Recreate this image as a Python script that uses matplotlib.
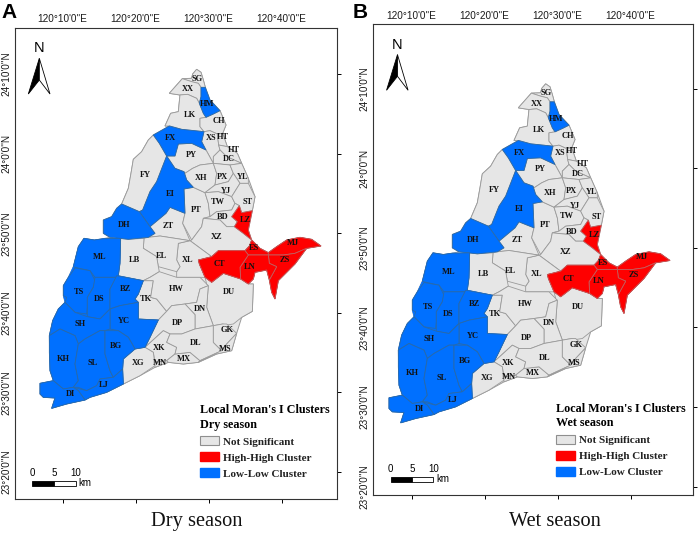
import matplotlib
matplotlib.use('Agg')
import matplotlib.pyplot as plt
from matplotlib.patches import Patch, Polygon, Rectangle

W, H = 699, 534
plt.rcParams['font.family'] = ['Liberation Sans', 'DejaVu Sans']

shapes = {
    'SG': [(590,208),(603,217),(610,240),(616,262),(603,262),(595,250),(575,245),(547,236),(575,235),(578,222)],
    'XX': [(547,236),(575,245),(595,250),(603,262),(603,290),(598,310),(590,295),(563,283),(540,285),(508,280)],
    'HM': [(603,262),(616,262),(630,300),(660,332),(640,342),(618,352),(610,340),(598,310),(603,290)],
    'LK': [(540,285),(563,283),(590,295),(598,310),(610,340),(618,352),(600,355),(600,380),(612,395),(545,388),(510,378),(495,378),(512,340),(535,335)],
    'CH': [(618,352),(640,342),(660,332),(678,375),(668,400),(652,402),(630,392),(612,395),(600,380),(600,355)],
    'FX': [(460,405),(508,378),(545,388),(612,395),(605,425),(618,450),(575,430),(535,432),(525,468),(500,468),(478,430)],
    'XS': [(612,395),(630,392),(652,402),(656,435),(660,450),(640,470),(640,490),(618,450),(605,425)],
    'HT1': [(652,402),(668,400),(682,440),(656,435)],
    'HT2': [(656,435),(682,440),(712,460),(725,490),(680,470),(660,450)],
    'DC': [(660,450),(680,470),(725,490),(690,495),(640,490),(640,470)],
    'FY': [(460,405),(478,430),(500,468),(470,545),(450,575),(428,630),(418,635),(365,612),(385,565),(393,520),(400,478),(425,455),(445,420)],
    'EI': [(500,468),(525,505),(552,515),(560,540),(580,562),(552,567),(555,640),(510,622),(498,640),(450,680),(418,635),(428,630),(450,575),(470,545)],
    'DH': [(365,612),(418,635),(450,680),(465,700),(445,712),(385,718),(330,712),(310,700),(310,660),(335,650),(350,625)],
    'ZT': [(450,680),(498,640),(510,622),(555,640),(548,670),(570,722),(480,708),(445,712),(465,700)],
    'PT': [(552,567),(580,562),(615,578),(625,610),(630,650),(610,655),(605,680),(575,720),(548,670),(555,640)],
    'PY': [(535,432),(575,430),(618,450),(640,490),(600,495),(578,505),(555,520),(525,505),(500,468),(525,468)],
    'XH': [(555,520),(578,505),(600,495),(640,490),(650,520),(645,555),(615,578),(580,562),(560,540),(552,515),(525,505)],
    'PX': [(640,490),(690,495),(700,520),(685,545),(645,555),(650,520)],
    'YL': [(690,495),(725,490),(745,535),(745,550),(720,550),(700,520)],
    'YJ': [(645,555),(685,545),(700,520),(720,550),(695,590),(655,575),(615,578)],
    'TW': [(615,578),(655,575),(695,590),(705,610),(695,630),(650,635),(630,650),(625,610)],
    'ST': [(720,550),(745,550),(765,590),(757,632),(725,638),(718,617),(705,610),(695,590)],
    'BD': [(630,650),(650,635),(695,630),(705,610),(718,617),(695,650),(712,665),(703,680),(680,680),(660,660),(610,655)],
    'LZ': [(718,617),(725,638),(757,632),(745,690),(755,720),(730,700),(703,680),(712,665),(695,650)],
    'XZ': [(610,655),(660,660),(680,680),(703,680),(730,700),(755,720),(748,738),(735,752),(655,752),(635,770),(570,722),(575,720),(605,680)],
    'ES': [(755,720),(780,745),(805,758),(805,765),(745,765),(735,752),(748,738)],
    'MJ': [(805,758),(830,740),(860,720),(900,712),(935,718),(963,738),(920,745),(885,760),(850,765),(805,765)],
    'ZS': [(805,765),(850,765),(885,760),(920,745),(885,792),(835,842),(825,897),(815,877),(808,840),(830,800),(808,790)],
    'LN': [(745,765),(805,765),(808,790),(830,800),(808,840),(800,810),(765,817),(760,837),(745,852),(722,837),(720,802)],
    'CT': [(595,780),(635,770),(655,752),(735,752),(745,765),(720,802),(722,837),(670,820),(635,847),(615,832),(598,792)],
    'XL': [(570,722),(635,770),(595,780),(598,792),(615,832),(600,832),(530,832),(530,815),(540,800),(530,780),(535,730)],
    'EL': [(432,715),(445,712),(480,708),(570,722),(535,730),(530,780),(540,800),(530,815),(475,800),(470,770),(430,745)],
    'LB': [(362,715),(385,718),(432,715),(430,745),(470,770),(475,800),(478,815),(450,832),(430,842),(355,827),(360,790)],
    'ML': [(252,715),(283,720),(310,716),(362,715),(360,790),(355,827),(350,832),(285,832),(270,812),(225,802),(220,800),(235,740)],
    'TS': [(225,804),(270,812),(285,842),(280,862),(262,892),(262,922),(260,942),(225,937),(200,912),(195,907),(200,892),(190,887),(190,857),(205,832)],
    'DS': [(285,832),(350,832),(330,867),(330,927),(300,957),(262,950),(262,892),(280,862)],
    'BZ': [(350,827),(430,842),(415,882),(405,897),(415,907),(360,917),(330,927),(330,867)],
    'YC': [(415,907),(415,957),(475,960),(450,1012),(435,1042),(405,1047),(385,1012),(355,992),(330,987),(330,927),(360,917)],
    'SH': [(195,907),(200,912),(225,937),(262,950),(300,957),(330,927),(330,987),(315,992),(300,992),(255,1017),(235,1032),(225,1007),(180,987),(148,1007),(158,962),(175,927)],
    'KH': [(148,1007),(180,987),(225,1007),(235,1032),(225,1092),(235,1142),(220,1162),(190,1167),(160,1142),(150,1112),(148,1057)],
    'SL': [(255,1017),(300,992),(315,992),(315,1062),(330,1112),(340,1132),(300,1137),(290,1157),(260,1172),(235,1162),(220,1162),(235,1142),(225,1092),(235,1032)],
    'BG': [(315,992),(355,992),(385,1012),(405,1047),(370,1077),(368,1107),(340,1132),(330,1112),(315,1062)],
    'LJ': [(368,1107),(370,1152),(320,1177),(270,1192),(255,1200),(235,1172),(220,1162),(260,1172),(290,1157),(300,1137),(340,1132)],
    'DI': [(120,1150),(160,1142),(190,1167),(220,1162),(235,1172),(255,1200),(200,1212),(155,1225),(165,1194),(130,1192),(120,1182)],
    'TK': [(430,842),(460,842),(452,892),(470,897),(500,934),(475,960),(415,957),(415,907),(405,897),(415,882)],
    'HW': [(478,815),(530,832),(600,832),(620,852),(625,857),(600,867),(590,907),(555,912),(515,917),(500,934),(470,897),(452,892),(460,842),(430,842),(450,832)],
    'DU': [(615,832),(635,847),(670,820),(722,837),(745,852),(760,852),(757,934),(725,952),(700,972),(680,975),(668,972),(640,977),(620,922),(625,857),(620,852)],
    'DN': [(600,867),(625,857),(620,922),(640,977),(585,987),(585,944),(555,912),(590,907)],
    'DP': [(500,934),(515,917),(555,912),(585,944),(585,987),(545,1002),(510,1002),(490,992),(435,1042),(450,1012),(475,960)],
    'XK': [(435,1042),(490,992),(510,1002),(500,1027),(530,1042),(525,1062),(500,1082),(465,1087),(460,1057)],
    'XG': [(405,1047),(435,1042),(460,1057),(465,1097),(420,1127),(370,1152),(368,1107),(370,1077)],
    'MN': [(465,1087),(500,1082),(505,1087),(465,1102)],
    'MX': [(500,1082),(525,1062),(570,1057),(600,1082),(595,1087),(550,1092),(505,1087)],
    'DL': [(500,1027),(510,1002),(545,1002),(585,987),(640,977),(640,1027),(665,1052),(600,1082),(570,1057),(525,1062),(530,1042)],
    'GK': [(640,977),(668,972),(680,972),(710,1000),(680,1032),(665,1052),(640,1027)],
    'MS': [(680,1032),(710,1000),(695,1052),(650,1062),(595,1087),(600,1082),(665,1052)],
}

# backing outlines so no white shows between digitised districts
coast = [(590,208),(603,217),(610,240),(616,262),(630,300),(660,332),(678,375),(668,400),(682,440),(712,460),(725,490),(745,535),(765,590),(757,632),(745,690),(755,720),(780,745),(805,758),(830,740),(860,720),(900,712),(935,718),(963,738),(920,745),(885,792),(835,842),(825,897),(815,877),(808,840),(800,810),(765,817),(760,837),(745,852),(760,852),(757,934),(725,952),(710,1000),(695,1052),(650,1062),(595,1087),(550,1092),(505,1087),(465,1102),(420,1127),(370,1152),(320,1177),(270,1192),(255,1200),(200,1212),(155,1225),(165,1194),(130,1192),(120,1182),(120,1150),(160,1142),(150,1112),(148,1007),(158,962),(175,927),(195,907),(190,887),(190,857),(205,832),(220,800),(235,740),(252,715),(283,720),(310,716),(330,712),(310,700),(310,660),(335,650),(350,625),(365,612),(385,565),(393,520),(400,478),(425,455),(445,420),(460,405),(508,378),(495,378),(512,340),(535,335),(540,285),(508,280),(547,236),(575,235),(578,222)]
low_block = [(252,715),(283,720),(310,716),(362,715),(360,790),(355,827),(430,842),(415,882),(405,897),(415,907),(415,957),(475,960),(450,1012),(435,1042),(405,1047),(370,1077),(368,1107),(370,1152),(320,1177),(270,1192),(255,1200),(200,1212),(155,1225),(165,1194),(130,1192),(120,1182),(120,1150),(160,1142),(150,1112),(148,1007),(158,962),(175,927),(195,907),(190,887),(190,857),(205,832),(220,800),(235,740)]
high_block = [(595,780),(635,770),(655,752),(735,752),(748,738),(755,720),(780,745),(805,758),(830,740),(860,720),(900,712),(935,718),(963,738),(920,745),(885,792),(835,842),(825,897),(815,877),(808,840),(800,810),(765,817),(760,837),(745,852),(722,837),(670,820),(635,847),(615,832),(598,792)]

# label anchor of each district, same units
label_xy = {
    'SG': (592,236), 'XX': (564,268), 'HM': (620,313), 'LK': (569,346), 'CH': (658,364),
    'FX': (510,414), 'XS': (633,415), 'HT1': (668,410), 'HT2': (703,449), 'DC': (685,478),
    'PY': (574,464), 'FY': (437,525), 'XH': (603,535), 'PX': (666,530), 'YL': (728,531),
    'YJ': (677,574), 'EI': (510,583), 'TW': (654,605), 'ST': (742,606), 'PT': (590,631),
    'BD': (669,652), 'LZ': (735,660), 'DH': (371,675), 'ZT': (506,677), 'XZ': (649,711),
    'MJ': (878,728), 'ES': (763,745), 'ML': (298,772), 'LB': (403,779), 'EL': (485,769),
    'XL': (564,779), 'CT': (658,793), 'LN': (749,800), 'ZS': (855,780), 'TS': (236,876),
    'BZ': (377,867), 'HW': (530,868), 'DU': (688,877), 'DS': (296,898), 'TK': (437,897),
    'DN': (601,926), 'SH': (240,973), 'YC': (373,964), 'DP': (532,970), 'GK': (682,991),
    'BG': (349,1039), 'DL': (587,1029), 'XK': (478,1045), 'MS': (676,1046), 'KH': (189,1076),
    'SL': (278,1089), 'XG': (414,1090), 'MN': (480,1088), 'MX': (552,1076), 'LJ': (310,1156),
    'DI': (210,1183),
}
label_text = {'HT1': 'HT', 'HT2': 'HT'}

# cluster membership by season
dry_high = ['LZ', 'ES', 'MJ', 'ZS', 'LN', 'CT']
dry_low = ['HM', 'FX', 'EI', 'DH', 'ML', 'TS', 'DS', 'BZ', 'YC', 'SH', 'KH', 'SL', 'BG', 'LJ', 'DI']
wet_high = ['LZ', 'ES', 'MJ', 'ZS', 'LN', 'CT']
wet_low = ['HM', 'FX', 'EI', 'DH', 'ML', 'TS', 'DS', 'BZ', 'YC', 'SH', 'KH', 'SL', 'BG', 'LJ', 'DI']

lon_ticks = [10, 20, 30, 40]          # minutes past 120 E
lat_ticks = [(24, 10), (24, 0), (23, 50), (23, 40), (23, 30), (23, 20)]
scale_km = [0, 5, 10]
legend_names = ['Not Significant', 'High-High Cluster', 'Low-Low Cluster']

GREY, RED, BLUE = '#e6e6e6', '#fe0000', '#0070ff'


def to_lon(u):
    return 120 + (10 + (u / 3 - 62.7) / 7.3) / 60


def to_lat(v):
    return 24 + (10 - (v / 3 - 74) / 7.96) / 60


def outline(pts):
    return [(to_lon(u), to_lat(v)) for u, v in pts]


def draw_panel(frame, high, low, season, letter, letter_x, legend_xy, caption_x):
    left, top, right, bottom = frame
    ax = fig.add_axes([left / W, 1 - bottom / H, (right - left) / W, (bottom - top) / H])
    dx = 349 if letter == 'B' else 0
    dy = 14.5 if letter == 'B' else 0
    ax.set_xlim(to_lon((left - dx) * 3), to_lon((right - dx) * 3))
    ax.set_ylim(to_lat((bottom - dy) * 3), to_lat((top - dy) * 3))

    ax.add_patch(Polygon(outline(coast), fc=GREY, ec='#9a9a9a', lw=0.7, zorder=1))
    for name, pts in shapes.items():
        if name not in high and name not in low:
            ax.add_patch(Polygon(outline(pts), fc=GREY, ec='#9a9a9a', lw=0.6, zorder=1))
    ax.add_patch(Polygon(outline(low_block), fc=BLUE, ec=BLUE, lw=0.4, zorder=1.5))
    ax.add_patch(Polygon(outline(high_block), fc=RED, ec=RED, lw=0.4, zorder=1.5))
    for name, pts in shapes.items():
        if name in high:
            ax.add_patch(Polygon(outline(pts), fc=RED, ec='#c06060', lw=0.6, zorder=2))
        elif name in low:
            ax.add_patch(Polygon(outline(pts), fc=BLUE, ec='#2a6aa8', lw=0.6, zorder=2))

    for name, (u, v) in label_xy.items():
        ax.text(to_lon(u), to_lat(v), label_text.get(name, name), ha='center', va='center',
                family='Liberation Serif', weight='bold', fontsize=6, color='#111111', zorder=3)

    ax.set_xticks([120 + m / 60 for m in lon_ticks])
    ax.set_xticklabels(['120°%d\'0"E' % m for m in lon_ticks])
    ax.set_yticks([d + m / 60 for d, m in lat_ticks])
    ax.set_yticklabels(['%d°%d\'0"N' % (d, m) for d, m in lat_ticks], rotation=90, va='center')
    ax.tick_params(top=False, left=False, right=True, bottom=True, labeltop=True, labelleft=True,
                   labelbottom=False, length=3, width=0.7, labelsize=7.2, labelcolor='#1a1a1a', pad=-0.5)
    for s in ax.spines.values():
        s.set_linewidth(0.8)
        s.set_color('#333333')

    # north arrow and scale bar sit at the same place in both frames
    t = ax.transAxes
    ax.add_patch(Polygon([(.0765, .935), (.0423, .8593), (.0765, .889)], fc='black', ec='black', lw=0.6, transform=t))
    ax.add_patch(Polygon([(.0765, .935), (.1096, .8593), (.0765, .889)], fc='white', ec='black', lw=0.6, transform=t))
    ax.text(.0765, .9563, 'N', transform=t, ha='center', va='center', fontsize=10.5)

    per_km = .0671 / 5
    x0, y0, h = .0547, .027, .0106
    ax.add_patch(Rectangle((x0, y0), per_km * 5, h, fc='black', ec='black', lw=0.6, transform=t))
    ax.add_patch(Rectangle((x0 + per_km * 5, y0), per_km * 5, h, fc='white', ec='black', lw=0.6, transform=t))
    for km in scale_km:
        ax.text(x0 + per_km * km, .0552, str(km), transform=t, ha='center', va='center', fontsize=7)
    ax.text(x0 + per_km * 10 + .008, .034, 'km', transform=t, ha='left', va='center', fontsize=7)

    handles = [Patch(fc=GREY, ec='#8f8f8f', lw=0.8), Patch(fc=RED, ec=RED), Patch(fc=BLUE, ec=BLUE)]
    leg = fig.legend(handles, legend_names, title="Local Moran's I Clusters\n%s season" % season,
                     loc='upper left', bbox_to_anchor=(legend_xy[0] / W, 1 - legend_xy[1] / H),
                     frameon=False, borderpad=0, borderaxespad=0, handlelength=1.75, handleheight=0.9,
                     handletextpad=0.35, labelspacing=0.5,
                     prop={'family': 'Liberation Serif', 'weight': 'bold', 'size': 8},
                     title_fontproperties={'family': 'Liberation Serif', 'weight': 'bold', 'size': 8.7},
                     alignment='left')
    leg.get_title().set_linespacing(1.3)
    for txt in leg.get_texts():
        txt.set_color('#222222')

    fig.text(caption_x / W, 1 - 521.5 / H, '%s season' % season, family='Liberation Serif', fontsize=14.7,
             ha='center', va='center', color='#111111')
    fig.text(letter_x / W, 1 - 17.5 / H, letter, weight='bold', fontsize=15, ha='left', va='baseline')


fig = plt.figure(figsize=(W / 100, H / 100), dpi=100)
draw_panel((14.7, 27.7, 336.7, 499), dry_high, dry_low, 'Dry', 'A', 1.5, (199.5, 404), 197)
draw_panel((373, 24, 693, 495), wet_high, wet_low, 'Wet', 'B', 353, (556, 402.5), 554.7)
fig.savefig('out.png', dpi=100)
